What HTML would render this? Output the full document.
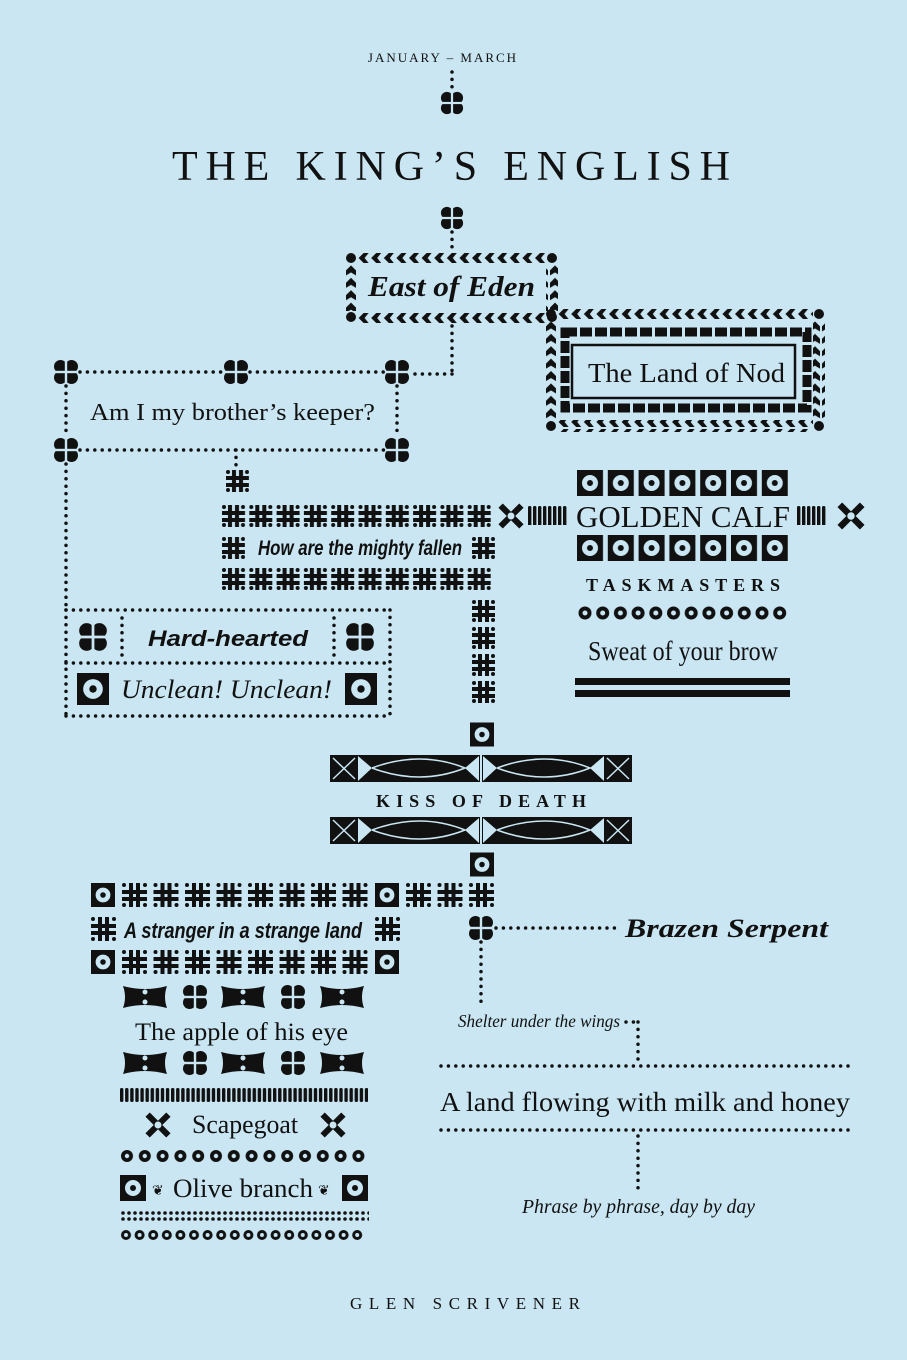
<!DOCTYPE html>
<html><head><meta charset="utf-8"><style>
html,body{margin:0;padding:0;background:#c9e6f2;}
svg{display:block;}
text{fill:#111;}
</style></head><body>
<svg width="907" height="1360" viewBox="0 0 907 1360" xmlns="http://www.w3.org/2000/svg">
<defs>
<pattern id="hash" width="27.3" height="22" patternUnits="userSpaceOnUse">
 <rect x="6" y="0" width="4" height="22" fill="#111"/><rect x="13" y="0" width="4" height="22" fill="#111"/>
 <rect x="0" y="6" width="23" height="4" fill="#111"/><rect x="0" y="13" width="23" height="4" fill="#111"/>
 <circle cx="2" cy="2" r="2" fill="#111"/><circle cx="21" cy="2" r="2" fill="#111"/><circle cx="2" cy="20" r="2" fill="#111"/><circle cx="21" cy="20" r="2" fill="#111"/>
</pattern>
<pattern id="hashv" width="30" height="27" patternUnits="userSpaceOnUse">
 <rect x="6" y="0" width="4" height="22" fill="#111"/><rect x="13" y="0" width="4" height="22" fill="#111"/>
 <rect x="0" y="6" width="23" height="4" fill="#111"/><rect x="0" y="13" width="23" height="4" fill="#111"/>
 <circle cx="2" cy="2" r="2" fill="#111"/><circle cx="21" cy="2" r="2" fill="#111"/><circle cx="2" cy="20" r="2" fill="#111"/><circle cx="21" cy="20" r="2" fill="#111"/>
</pattern>
<pattern id="hash2" width="31.5" height="24" patternUnits="userSpaceOnUse">
 <rect x="7" y="0" width="4" height="24" fill="#111"/><rect x="14" y="0" width="4" height="24" fill="#111"/>
 <rect x="0" y="7" width="25" height="4" fill="#111"/><rect x="0" y="14" width="25" height="4" fill="#111"/>
 <circle cx="2" cy="2" r="2" fill="#111"/><circle cx="23" cy="2" r="2" fill="#111"/><circle cx="2" cy="22" r="2" fill="#111"/><circle cx="23" cy="22" r="2" fill="#111"/>
</pattern>
<pattern id="gear" width="30.8" height="26" patternUnits="userSpaceOnUse">
 <rect x="0" y="0" width="26" height="26" fill="#111"/><circle cx="13" cy="13" r="8" fill="#c9e6f2"/><circle cx="13" cy="13" r="3" fill="#111"/>
</pattern>
<pattern id="star" width="17.7" height="16" patternUnits="userSpaceOnUse">
 <circle cx="8" cy="8" r="6.5" fill="#111"/><circle cx="8" cy="8" r="2.5" fill="#c9e6f2"/>
</pattern>
<pattern id="flow" width="17.8" height="14" patternUnits="userSpaceOnUse">
 <circle cx="7" cy="7" r="6" fill="#111"/><circle cx="7" cy="7" r="2.2" fill="#c9e6f2"/>
</pattern>
<pattern id="small" width="13.6" height="12" patternUnits="userSpaceOnUse">
 <circle cx="6" cy="6" r="5" fill="#111"/><circle cx="6" cy="6" r="2" fill="#c9e6f2"/>
</pattern>
<pattern id="bars" width="5.1" height="14" patternUnits="userSpaceOnUse">
 <rect x="0" y="0" width="3.4" height="14" rx="1.5" fill="#111"/>
</pattern>
<pattern id="bars2" width="5" height="22" patternUnits="userSpaceOnUse">
 <rect x="0" y="0" width="3.4" height="22" rx="1.5" fill="#111"/>
</pattern>
<pattern id="heart" width="12.6" height="12" patternUnits="userSpaceOnUse">
 <path d="M1,6 L6,1 L11,1 L7,6 L11,11 L6,11 Z" fill="#111"/>
</pattern>
<pattern id="heartv" width="12" height="12.4" patternUnits="userSpaceOnUse">
 <path d="M6,1 L11,6 L11,11 L6,8 L1,11 L1,6 Z" fill="#111"/>
</pattern>
<pattern id="dots2" width="6" height="6" patternUnits="userSpaceOnUse">
 <circle cx="3" cy="3" r="1.8" fill="#111"/>
</pattern>
<symbol id="qf" viewBox="-13 -13 26 26">
 <circle cx="-5.5" cy="-5.5" r="6.5" fill="#111"/><circle cx="5.5" cy="-5.5" r="6.5" fill="#111"/>
 <circle cx="-5.5" cy="5.5" r="6.5" fill="#111"/><circle cx="5.5" cy="5.5" r="6.5" fill="#111"/>
 <rect x="-1.2" y="-11" width="2.4" height="22" fill="#c9e6f2"/><rect x="-11" y="-1.2" width="22" height="2.4" fill="#c9e6f2"/>
</symbol>
<symbol id="gr" viewBox="0 0 26 26">
 <rect width="26" height="26" fill="#111"/><circle cx="13" cy="13" r="8" fill="#c9e6f2"/><circle cx="13" cy="13" r="3" fill="#111"/>
</symbol>
<symbol id="xx" viewBox="0 0 30 30">
 <path d="M3,3 L27,27 M27,3 L3,27" stroke="#111" stroke-width="7"/>
 <circle cx="15" cy="15" r="4" fill="#c9e6f2"/>
</symbol>
<symbol id="blob" viewBox="0 0 50 26">
 <path d="M3,2 Q25,8 47,2 Q43,13 47,24 Q25,18 3,24 Q7,13 3,2 Z" fill="#111"/>
 <circle cx="25" cy="8" r="2.5" fill="#c9e6f2"/><circle cx="25" cy="18" r="2.5" fill="#c9e6f2"/>
</symbol>
</defs>

<g fill="none" stroke="#111" stroke-width="3.5" stroke-linecap="round" stroke-dasharray="0 7.4">
 <line x1="452" y1="72" x2="452" y2="92"/>
 <line x1="452" y1="232" x2="452" y2="250"/>
 <line x1="452" y1="326" x2="452" y2="374"/>
 <line x1="452" y1="374" x2="410" y2="374"/>
 <line x1="80" y1="372" x2="224" y2="372"/>
 <line x1="250" y1="372" x2="384" y2="372"/>
 <line x1="66" y1="386" x2="66" y2="436"/>
 <line x1="397" y1="386" x2="397" y2="436"/>
 <line x1="80" y1="450" x2="384" y2="450"/>
 <line x1="236" y1="450" x2="236" y2="468"/>
 <line x1="66" y1="464" x2="66" y2="610"/>
 <line x1="66" y1="610" x2="390" y2="610"/>
 <line x1="66" y1="663" x2="390" y2="663"/>
 <line x1="66" y1="716" x2="390" y2="716"/>
 <line x1="66" y1="610" x2="66" y2="716"/>
 <line x1="390" y1="610" x2="390" y2="716"/>
 <line x1="122" y1="618" x2="122" y2="656"/>
 <line x1="334" y1="618" x2="334" y2="656"/>
 <line x1="496" y1="928" x2="620" y2="928"/>
 <line x1="481" y1="942" x2="481" y2="1006"/>
 <line x1="626" y1="1022" x2="638" y2="1022"/>
 <line x1="638" y1="1022" x2="638" y2="1062"/>
 <line x1="441" y1="1066" x2="852" y2="1066"/>
 <line x1="441" y1="1130" x2="852" y2="1130"/>
 <line x1="638" y1="1136" x2="638" y2="1194"/>
</g>

<text x="443" y="62" font-family="Liberation Serif" font-size="13" text-anchor="middle" letter-spacing="2">JANUARY – MARCH</text>
<use href="#qf" x="440" y="91" width="24" height="24"/>
<text x="172" y="180" font-family="Liberation Serif" font-size="42" textLength="558" lengthAdjust="spacing">THE KING’S ENGLISH</text>
<use href="#qf" x="440" y="206" width="24" height="24"/>

<!-- East of Eden -->
<g transform="translate(345,252)">
 <rect x="12" y="0" width="190" height="12" fill="url(#heart)"/>
 <rect x="12" y="59" width="190" height="12" fill="url(#heart)"/>
 <rect x="0" y="12" width="12" height="47" fill="url(#heartv)"/>
 <rect x="201" y="12" width="12" height="47" fill="url(#heartv)"/>
 <circle cx="6" cy="6" r="5" fill="#111"/><circle cx="207" cy="6" r="5" fill="#111"/><circle cx="6" cy="65" r="5" fill="#111"/><circle cx="207" cy="65" r="5" fill="#111"/>
</g>
<text x="368" y="296" font-family="Liberation Serif" font-style="italic" font-weight="bold" font-size="28" textLength="167" lengthAdjust="spacingAndGlyphs">East of Eden</text>

<!-- Land of Nod -->
<g transform="translate(545,308)">
 <rect x="12" y="0" width="256" height="12" fill="url(#heart)"/>
 <rect x="12" y="112" width="256" height="12" fill="url(#heart)"/>
 <rect x="0" y="12" width="12" height="100" fill="url(#heartv)"/>
 <rect x="268" y="12" width="12" height="100" fill="url(#heartv)"/>
 <circle cx="6" cy="6" r="5" fill="#111"/><circle cx="274" cy="6" r="5" fill="#111"/><circle cx="6" cy="118" r="5" fill="#111"/><circle cx="274" cy="118" r="5" fill="#111"/>
</g>
<rect x="565" y="332" width="242" height="76" fill="none" stroke="#111" stroke-width="9" stroke-dasharray="12 3"/>
<rect x="572" y="345" width="223" height="53" fill="none" stroke="#111" stroke-width="2.5"/>
<text x="588" y="382" font-family="Liberation Serif" font-size="27" textLength="197" lengthAdjust="spacingAndGlyphs">The Land of Nod</text>

<!-- Am I -->
<use href="#qf" x="53" y="359" width="26" height="26"/>
<use href="#qf" x="223" y="359" width="26" height="26"/>
<use href="#qf" x="384" y="359" width="26" height="26"/>
<use href="#qf" x="53" y="437" width="26" height="26"/>
<use href="#qf" x="384" y="437" width="26" height="26"/>
<text x="90" y="420" font-family="Liberation Serif" font-size="24" textLength="285" lengthAdjust="spacingAndGlyphs">Am I my brother’s keeper?</text>

<!-- mighty fallen -->
<g transform="translate(226,470)"><rect width="23" height="22" fill="url(#hash)"/></g>
<g transform="translate(222,505)"><rect width="273" height="22" fill="url(#hash)"/></g>
<g transform="translate(222,537)"><rect width="23" height="22" fill="url(#hash)"/></g>
<g transform="translate(472,537)"><rect width="23" height="22" fill="url(#hash)"/></g>
<g transform="translate(222,568)"><rect width="273" height="22" fill="url(#hash)"/></g>
<text x="258" y="555" font-family="Liberation Sans" font-weight="bold" font-style="italic" font-size="21" textLength="204" lengthAdjust="spacingAndGlyphs">How are the mighty fallen</text>
<g transform="translate(472,600)"><rect width="23" height="104" fill="url(#hashv)"/></g>
<use href="#gr" x="470" y="722" width="24" height="25"/>

<!-- hard hearted -->
<use href="#qf" x="78" y="622" width="30" height="30"/>
<use href="#qf" x="345" y="622" width="30" height="30"/>
<text x="148" y="646" font-family="Liberation Sans" font-weight="bold" font-style="italic" font-size="22" textLength="160" lengthAdjust="spacingAndGlyphs">Hard-hearted</text>
<use href="#gr" x="77" y="673" width="32" height="32"/>
<use href="#gr" x="345" y="673" width="32" height="32"/>
<text x="121" y="698" font-family="Liberation Serif" font-style="italic" font-size="26" textLength="211" lengthAdjust="spacingAndGlyphs">Unclean! Unclean!</text>

<!-- golden calf -->
<use href="#xx" x="498" y="503" width="26" height="26"/>
<g transform="translate(528,506)"><rect width="40" height="19" fill="url(#bars2)"/></g>
<g transform="translate(797,506)"><rect width="30" height="19" fill="url(#bars2)"/></g>
<use href="#xx" x="836" y="502" width="30" height="28"/>
<g transform="translate(577,470)"><rect width="211" height="26" fill="url(#gear)"/></g>
<text x="576" y="527" font-family="Liberation Serif" font-size="31" textLength="214" lengthAdjust="spacingAndGlyphs">GOLDEN CALF</text>
<g transform="translate(577,535)"><rect width="211" height="26" fill="url(#gear)"/></g>
<text x="586" y="591" font-family="Liberation Serif" font-weight="bold" font-size="18" textLength="194">TASKMASTERS</text>
<g transform="translate(577,605)"><rect width="212" height="16" fill="url(#star)"/></g>
<text x="588" y="660" font-family="Liberation Serif" font-size="27" textLength="190" lengthAdjust="spacingAndGlyphs">Sweat of your brow</text>
<rect x="575" y="678" width="215" height="7" fill="#111"/>
<rect x="575" y="690" width="215" height="7" fill="#111"/>

<!-- kiss of death -->
<g id="kb">
 <rect x="330" y="755" width="302" height="27" fill="#111"/>
 <path d="M333,758 L355,779 M355,758 L333,779 M607,758 L629,779 M629,758 L607,779" stroke="#c9e6f2" stroke-width="1.5"/>
 <path d="M358,756 L372,768 L358,781 Z M479,756 L465,768 L479,781 Z M483,756 L497,768 L483,781 Z M604,756 L590,768 L604,781 Z" fill="#c9e6f2"/>
 <path d="M372,768 Q420,750 465,768 Q420,786 372,768 M497,768 Q545,750 590,768 Q545,786 497,768" fill="none" stroke="#c9e6f2" stroke-width="1.5"/>
 <rect x="480" y="755" width="2" height="27" fill="#c9e6f2"/>
</g>
<use href="#kb" y="62"/>
<text x="376" y="807" font-family="Liberation Serif" font-weight="bold" font-size="18" textLength="210">KISS OF DEATH</text>
<use href="#gr" x="470" y="852" width="24" height="25"/>

<!-- stranger -->
<use href="#gr" x="91" y="883" width="24" height="24"/>
<g transform="translate(122,883)"><rect width="246" height="24" fill="url(#hash2)"/></g>
<use href="#gr" x="375" y="883" width="24" height="24"/>
<g transform="translate(406,883)"><rect width="90" height="24" fill="url(#hash2)"/></g>
<g transform="translate(91,917)"><rect width="25" height="24" fill="url(#hash2)"/></g>
<g transform="translate(375,917)"><rect width="25" height="24" fill="url(#hash2)"/></g>
<text x="124" y="938" font-family="Liberation Sans" font-weight="bold" font-style="italic" font-size="22" textLength="238" lengthAdjust="spacingAndGlyphs">A stranger in a strange land</text>
<use href="#gr" x="91" y="950" width="24" height="24"/>
<g transform="translate(122,950)"><rect width="246" height="24" fill="url(#hash2)"/></g>
<use href="#gr" x="375" y="950" width="24" height="24"/>
<use href="#qf" x="468" y="915" width="26" height="26"/>
<text x="625" y="937" font-family="Liberation Serif" font-style="italic" font-weight="bold" font-size="26" textLength="203" lengthAdjust="spacingAndGlyphs">Brazen Serpent</text>

<!-- apple -->
<g id="br">
<use href="#blob" x="120" y="984" width="50" height="26"/>
<use href="#qf" x="182" y="984" width="26" height="26"/>
<use href="#blob" x="218" y="984" width="50" height="26"/>
<use href="#qf" x="280" y="984" width="26" height="26"/>
<use href="#blob" x="317" y="984" width="50" height="26"/>
</g>
<text x="135" y="1040" font-family="Liberation Serif" font-size="25" textLength="213" lengthAdjust="spacingAndGlyphs">The apple of his eye</text>
<use href="#br" y="66"/>
<g transform="translate(120,1088)"><rect width="248" height="14" fill="url(#bars)"/></g>
<use href="#xx" x="145" y="1112" width="26" height="26"/>
<use href="#xx" x="320" y="1112" width="26" height="26"/>
<text x="192" y="1133" font-family="Liberation Serif" font-size="26" textLength="106" lengthAdjust="spacingAndGlyphs">Scapegoat</text>
<g transform="translate(120,1149)"><rect width="248" height="14" fill="url(#flow)"/></g>
<use href="#gr" x="120" y="1175" width="26" height="26"/>
<use href="#gr" x="342" y="1175" width="26" height="26"/>
<text x="152" y="1195" font-family="DejaVu Sans" font-size="14">❦</text>
<text x="318" y="1195" font-family="DejaVu Sans" font-size="14">❦</text>
<text x="173" y="1197" font-family="Liberation Serif" font-size="26" textLength="140" lengthAdjust="spacingAndGlyphs">Olive branch</text>
<g transform="translate(120,1210)"><rect width="249" height="12" fill="url(#dots2)"/></g>
<g transform="translate(120,1229)"><rect width="245" height="12" fill="url(#small)"/></g>

<!-- right lower -->
<text x="458" y="1027" font-family="Liberation Serif" font-style="italic" font-size="18" textLength="162" lengthAdjust="spacingAndGlyphs">Shelter under the wings</text>
<text x="440" y="1111" font-family="Liberation Serif" font-size="27" textLength="410" lengthAdjust="spacingAndGlyphs">A land flowing with milk and honey</text>
<text x="522" y="1213" font-family="Liberation Serif" font-style="italic" font-size="20" textLength="233" lengthAdjust="spacingAndGlyphs">Phrase by phrase, day by day</text>

<text x="350" y="1309" font-family="Liberation Serif" font-size="17" textLength="230" lengthAdjust="spacing">GLEN SCRIVENER</text>
</svg>
</body></html>
